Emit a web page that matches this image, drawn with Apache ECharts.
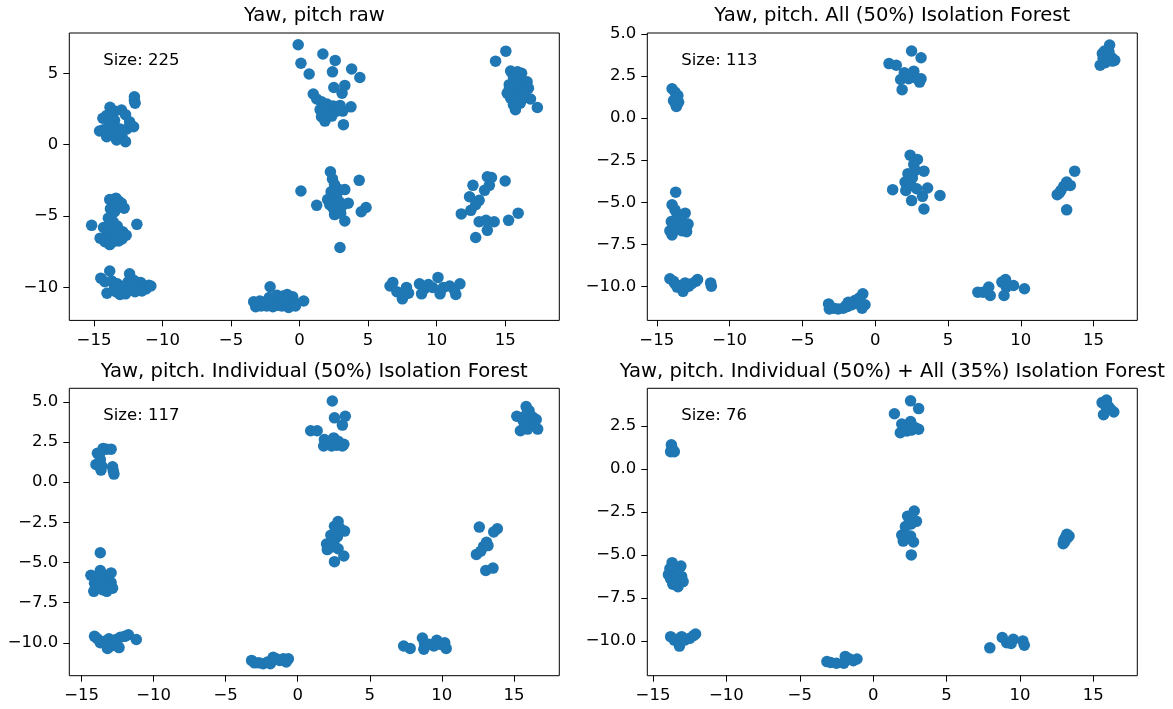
<!DOCTYPE html>
<html>
<head>
<meta charset="utf-8">
<title>Yaw, pitch</title>
<script src="https://cdn.jsdelivr.net/npm/echarts@6/dist/echarts.min.js"></script>
<style>
  html, body { margin: 0; padding: 0; background: #fff; }
  #chart { width: 1173px; height: 709px; }
</style>
</head>
<body>
<div id="chart"></div>
<script>
// [yaw, pitch] pairs for each panel
const rawPoints = [
  [-12.05,3.35],[-12.05,3.1],[-12.0,2.9],[-13.83,2.62],[-13.5,2.35],[-12.99,2.43],[-12.7,2.1],[-14.07,2.05],
  [-14.35,1.85],[-13.75,1.95],[-13.5,1.7],[-12.4,1.6],[-12.11,1.25],[-12.6,1.1],[-14.59,0.96],[-14.3,1.05],
  [-13.85,1.45],[-13.6,1.2],[-13.1,1.1],[-14.07,0.56],[-13.7,0.75],[-13.35,0.33],[-12.95,0.55],[-12.7,0.21],

  [-13.85,-3.85],[-13.4,-3.75],[-13.2,-3.95],[-13.6,-4.2],[-13.0,-4.1],[-13.8,-4.5],[-13.3,-4.4],[-12.8,-4.45],
  [-13.5,-4.7],[-13.95,-5.15],[-13.6,-5.4],[-15.17,-5.65],[-11.87,-5.58],[-14.3,-5.8],[-13.9,-5.9],[-13.3,-5.7],
  [-12.9,-6.1],[-14.0,-6.2],[-13.5,-6.1],[-12.65,-6.35],[-14.55,-6.55],[-13.8,-6.5],[-13.2,-6.4],[-14.2,-6.8],
  [-13.6,-6.8],[-13.2,-6.75],[-13.85,-7.0],[-12.95,-6.6],

  [-14.5,-9.35],[-14.2,-9.6],[-13.85,-8.85],[-13.7,-9.55],[-14.05,-10.4],[-13.5,-10.0],[-13.3,-9.75],[-13.0,-10.2],
  [-13.1,-10.5],[-12.8,-9.9],[-12.7,-10.45],[-12.4,-9.05],[-12.5,-9.6],[-12.3,-10.1],[-12.1,-9.5],[-12.0,-10.3],
  [-11.9,-9.8],[-11.7,-10.05],[-11.6,-9.65],[-11.4,-9.9],[-11.2,-10.1],[-11.0,-9.85],[-10.85,-9.9],[-12.9,-10.0],
  [-13.4,-10.3],[-12.2,-9.8],[-11.5,-10.25],[-12.6,-10.25],

  [-3.35,-11.0],[-3.2,-11.35],[-3.0,-11.15],[-2.8,-11.3],[-2.6,-11.2],[-2.4,-11.3],[-2.15,-9.95],[-2.2,-10.7],
  [-2.1,-11.1],[-1.95,-11.35],[-1.8,-11.0],[-1.6,-11.25],[-1.65,-10.55],[-1.4,-10.9],[-1.3,-11.3],[-1.1,-10.75],
  [-1.0,-11.1],[-0.9,-10.5],[-0.8,-11.4],[-0.75,-10.8],[-0.6,-11.2],[-0.5,-10.65],[-0.4,-11.0],[0.3,-10.95],
  [-2.9,-10.95],[-1.2,-10.6],[-0.3,-11.3],[-2.5,-11.0],

  [-0.1,7.0],[0.1,5.7],[0.7,4.95],[1.7,6.35],[2.6,5.9],[2.4,5.1],[3.8,5.3],[4.4,4.7],
  [2.5,4.0],[3.3,4.15],[3.1,3.6],[1.0,3.55],[1.25,3.2],[1.6,3.0],[1.95,2.6],[2.45,2.7],
  [2.7,2.35],[3.15,2.35],[3.75,2.65],[1.6,1.95],[1.85,1.65],[3.2,1.4],[2.2,2.2],[2.95,2.75],
  [1.5,2.45],[2.35,2.0],[2.0,2.85],

  [2.25,-1.9],[2.4,-2.4],[2.55,-2.8],[4.35,-2.5],[0.1,-3.25],[2.8,-3.1],[3.3,-3.15],[2.3,-3.3],
  [2.7,-3.6],[2.05,-3.85],[2.45,-3.95],[1.25,-4.25],[2.9,-4.0],[3.55,-4.1],[2.2,-4.2],[2.45,-4.45],
  [2.9,-4.5],[3.1,-4.3],[2.55,-4.9],[3.0,-4.8],[3.3,-5.35],[4.5,-4.7],[4.85,-4.4],[2.95,-7.2],
  [2.65,-4.65],

  [6.6,-9.9],[6.8,-9.65],[7.1,-10.3],[7.5,-10.8],[7.6,-10.5],[7.8,-10.0],[7.95,-10.4],[7.7,-10.25],
  [8.75,-9.75],[8.9,-10.45],[9.1,-10.1],[9.4,-9.8],[9.7,-10.0],[10.1,-9.3],[10.25,-10.45],[10.5,-10.0],
  [10.95,-9.9],[11.4,-10.5],[11.7,-9.75],[11.3,-10.2],

  [15.05,6.55],[14.3,5.85],[15.4,5.15],[15.9,5.1],[16.2,5.0],[15.6,4.75],[16.0,4.6],[16.6,4.4],
  [15.3,4.2],[15.8,4.3],[16.3,4.1],[15.5,3.9],[15.95,3.85],[16.4,3.7],[15.15,3.6],[15.6,3.5],
  [16.1,3.45],[15.4,3.25],[15.85,3.1],[16.5,3.3],[16.85,3.2],[17.35,2.6],[15.75,2.45],[15.6,2.8],
  [16.1,2.9],[15.3,3.9],[16.7,3.95],

  [13.7,-2.25],[14.0,-2.3],[13.85,-2.85],[15.0,-2.55],[12.65,-2.85],[13.5,-3.2],[12.4,-3.65],[13.1,-3.9],
  [12.85,-4.2],[12.5,-4.6],[11.8,-4.85],[13.1,-5.4],[13.6,-5.3],[14.2,-5.4],[13.7,-6.0],[12.85,-6.5],
  [15.25,-5.3],[15.95,-4.8]
];

const allForestPoints = [
  [-13.95,1.75],[-13.75,1.55],[-13.55,1.35],[-13.85,1.05],[-13.5,0.95],[-13.65,0.7],[-13.7,0.85],

  [-13.7,-4.4],[-13.95,-5.15],[-13.75,-5.45],[-13.6,-5.7],[-13.05,-5.65],[-14.0,-6.15],[-13.6,-6.05],[-13.35,-6.3],
  [-12.85,-6.3],[-14.1,-6.7],[-13.95,-6.95],[-13.65,-6.6],[-13.25,-6.7],[-12.95,-6.75],[-13.45,-5.95],[-13.8,-6.3],
  [-13.3,-6.1],

  [-14.1,-9.55],[-13.85,-9.7],[-13.75,-9.85],[-13.6,-10.05],[-13.35,-9.95],[-13.2,-10.3],[-13.05,-9.8],[-12.8,-10.0],
  [-12.6,-9.85],[-12.3,-9.7],[-12.2,-9.6],[-11.3,-9.8],[-11.25,-10.0],

  [-3.2,-11.05],[-3.15,-11.35],[-2.85,-11.3],[-2.55,-11.35],[-2.2,-11.3],[-1.9,-11.2],[-1.85,-10.95],[-1.6,-11.1],
  [-1.4,-10.85],[-1.2,-11.0],[-0.85,-10.45],[-0.7,-11.1],[-0.9,-11.3],[-2.0,-11.15],[-1.1,-10.7],

  [0.95,3.25],[1.45,3.15],[2.5,4.0],[3.15,3.6],[2.0,2.7],[2.65,2.8],[1.75,2.3],[2.3,2.35],
  [2.45,2.55],[3.15,2.35],[3.05,2.15],[1.85,1.7],[2.8,2.4],[2.2,2.6],

  [2.4,-2.2],[2.9,-2.45],[2.65,-2.75],[2.25,-3.3],[2.75,-3.1],[3.35,-3.15],[2.55,-3.55],[2.05,-3.8],
  [2.45,-4.0],[1.2,-4.25],[2.1,-4.3],[2.85,-4.2],[3.6,-4.15],[2.5,-4.9],[3.25,-4.65],[3.35,-5.4],
  [4.45,-4.6],

  [7.05,-10.35],[7.4,-10.35],[7.8,-10.05],[7.9,-10.55],[7.65,-10.3],[8.7,-9.75],[8.95,-9.6],[9.0,-10.05],
  [8.85,-10.55],[9.5,-9.95],[10.25,-10.15],

  [16.1,4.35],[15.6,3.85],[15.45,3.15],[15.8,3.3],[16.45,3.45],[15.95,3.7],[15.75,4.0],[16.25,3.6],
  [16.05,3.95],[16.3,3.4],[15.65,3.55],

  [12.5,-4.55],[12.75,-4.3],[12.95,-4.05],[13.15,-3.8],[13.4,-4.0],[13.7,-3.15],[13.15,-5.45],[12.65,-4.45]
];

const individualForestPoints = [
  [-13.9,1.8],[-13.5,2.1],[-13.25,2.05],[-12.95,2.05],[-14.0,1.1],[-13.7,1.4],[-13.75,1.75],[-13.6,1.0],
  [-13.65,0.75],[-12.85,0.95],[-12.8,0.7],[-12.75,0.5],

  [-13.7,-4.4],[-14.35,-5.8],[-14.05,-5.9],[-13.7,-5.5],[-13.45,-5.8],[-12.95,-5.65],[-14.1,-6.3],[-13.75,-6.1],
  [-13.4,-6.35],[-12.95,-6.25],[-14.15,-6.8],[-13.8,-6.6],[-13.55,-6.7],[-13.25,-6.8],[-12.85,-6.6],[-13.6,-6.4],

  [-14.1,-9.6],[-13.9,-9.75],[-13.7,-10.0],[-13.4,-9.9],[-13.2,-10.35],[-13.1,-9.75],[-12.85,-10.05],[-12.6,-9.8],
  [-12.4,-10.3],[-12.3,-9.65],[-12.0,-9.6],[-11.75,-9.5],[-11.2,-9.8],[-12.95,-10.2],

  [-3.2,-11.1],[-3.0,-11.25],[-2.7,-11.25],[-2.4,-11.3],[-2.1,-11.2],[-1.9,-11.3],[-1.7,-10.9],[-1.5,-11.0],
  [-1.25,-11.1],[-1.0,-11.0],[-0.8,-11.2],[-0.65,-11.0],

  [2.4,5.05],[0.9,3.2],[1.35,3.2],[2.55,4.0],[3.3,4.1],[3.1,3.55],[1.85,2.65],[2.1,2.5],
  [1.8,2.25],[2.5,2.75],[2.35,2.25],[2.8,2.55],[3.1,2.25],[2.7,2.3],[3.2,2.35],

  [2.8,-2.45],[2.55,-2.75],[2.9,-2.85],[3.25,-3.05],[2.3,-3.3],[2.75,-3.4],[2.0,-3.85],[2.5,-3.75],
  [2.3,-4.05],[2.05,-4.2],[2.8,-4.15],[3.2,-4.6],[2.55,-4.95],

  [7.35,-10.2],[7.8,-10.35],[8.65,-9.7],[8.8,-10.05],[8.75,-10.4],[9.1,-10.1],[9.45,-10.2],[9.65,-9.85],
  [10.2,-10.0],[10.3,-10.35],[9.9,-10.1],

  [15.85,4.7],[16.05,4.45],[15.2,4.1],[15.55,4.0],[15.9,4.25],[16.3,4.05],[16.55,3.9],[15.45,3.2],
  [15.75,3.5],[16.05,3.75],[16.35,3.55],[16.65,3.3],[15.95,3.3],[15.65,3.8],

  [12.6,-2.8],[13.85,-2.9],[13.6,-3.1],[12.4,-4.5],[12.7,-4.3],[12.9,-4.0],[13.1,-3.75],[13.2,-3.95],
  [13.05,-5.5],[13.55,-5.35]
];

const combinedForestPoints = [
  [-13.75,1.4],[-13.8,1.0],[-13.55,1.0],[-13.7,1.2],

  [-13.7,-5.45],[-13.1,-5.65],[-13.95,-6.15],[-13.8,-6.4],[-13.6,-6.0],[-13.35,-6.3],[-13.05,-6.25],[-13.65,-6.7],
  [-13.3,-6.85],[-12.95,-6.55],[-13.85,-5.8],[-13.45,-6.55],[-13.6,-5.7],

  [-13.8,-9.75],[-13.55,-9.95],[-13.35,-9.9],[-13.2,-10.3],[-13.05,-9.75],[-12.85,-9.95],[-12.5,-9.85],[-12.25,-9.7],
  [-12.1,-9.6],

  [-3.15,-11.2],[-2.9,-11.25],[-2.5,-11.3],[-2.0,-11.3],[-1.9,-10.9],[-1.6,-11.05],[-1.35,-11.15],[-1.1,-11.05],

  [1.45,3.2],[2.55,3.95],[3.1,3.5],[1.95,2.6],[1.85,2.1],[2.2,2.4],[2.55,2.75],[2.6,2.25],
  [3.1,2.3],[2.85,2.4],[2.3,2.2],

  [2.8,-2.45],[2.35,-2.75],[2.95,-3.05],[2.6,-3.2],[2.2,-3.35],[1.95,-3.85],[2.55,-3.9],[2.05,-4.2],
  [2.75,-4.25],[2.6,-5.0],

  [7.95,-10.4],[8.8,-9.8],[9.1,-10.1],[9.55,-9.9],[9.4,-10.15],[10.2,-10.0],[10.3,-10.25],

  [15.6,3.85],[15.9,4.0],[15.7,3.15],[16.05,3.6],[16.4,3.3],[16.2,3.45],[15.8,3.7],

  [12.95,-4.35],[13.0,-4.15],[13.1,-4.0],[13.2,-3.8],[13.35,-3.9],[13.05,-4.25],[13.25,-4.0]
];

const panelTitles = [
  'Yaw, pitch raw',
  'Yaw, pitch. All (50%) Isolation Forest',
  'Yaw, pitch. Individual (50%) Isolation Forest',
  'Yaw, pitch. Individual (50%) + All (35%) Isolation Forest'
];

const xTickValues = [-15, -10, -5, 0, 5, 10, 15];
const yTickValuesRaw = [-10, -5, 0, 5];
const yTickValuesForest = [-10, -7.5, -5, -2.5, 0, 2.5, 5];
const yTickValuesCombined = [-10, -7.5, -5, -2.5, 0, 2.5];

const xLimits = [[-16.8, 18.95], [-15.65, 18.0], [-15.85, 18.15], [-15.39, 18.0]];
const yLimits = [[-12.31, 7.82], [-12.03, 5.07], [-12.05, 5.84], [-12.02, 4.68]];

// ---- layout & styling ----
const FONT = 'DejaVu Sans';
const TICK_FS = 16.5;
const TITLE_FS = 19.6;
const BLUE = '#1f77b4';
const AX_W = 490, AX_H = 287.4;
const origins = [[69.3, 33], [647.3, 33], [69.3, 388.3], [647.3, 388.3]];

const panels = [
  { points: rawPoints,              yTicks: yTickValuesRaw,      digits: 0 },
  { points: allForestPoints,        yTicks: yTickValuesForest,   digits: 1 },
  { points: individualForestPoints, yTicks: yTickValuesForest,   digits: 1 },
  { points: combinedForestPoints,   yTicks: yTickValuesCombined, digits: 1 }
];

const withMinus = s => s.replace('-', '\u2212');

const option = {
  animation: false,
  backgroundColor: '#fff',
  grid: [], xAxis: [], yAxis: [], series: [], graphic: []
};

panels.forEach((p, i) => {
  const [left, top] = origins[i];
  option.grid.push({
    left: left, top: top, width: AX_W, height: AX_H,
    show: true, borderColor: '#000', borderWidth: 1, backgroundColor: 'transparent',
    containLabel: false, outerBoundsMode: 'none'
  });
  option.xAxis.push({
    type: 'value', gridIndex: i, min: xLimits[i][0], max: xLimits[i][1],
    splitLine: { show: false },
    axisLine: { show: false, onZero: false },
    axisTick: { show: true, length: 6, customValues: xTickValues, lineStyle: { color: '#000', width: 1 } },
    axisLabel: {
      customValues: xTickValues, margin: 11.5, color: '#000',
      fontFamily: FONT, fontSize: TICK_FS,
      formatter: v => withMinus(String(v))
    }
  });
  option.yAxis.push({
    type: 'value', gridIndex: i, min: yLimits[i][0], max: yLimits[i][1],
    splitLine: { show: false },
    axisLine: { show: false, onZero: false },
    axisTick: { show: true, length: 6, customValues: p.yTicks, lineStyle: { color: '#000', width: 1 } },
    axisLabel: {
      customValues: p.yTicks, margin: 11, color: '#000',
      fontFamily: FONT, fontSize: TICK_FS,
      formatter: v => withMinus(Number(v).toFixed(p.digits))
    }
  });
  option.series.push({
    type: 'scatter', xAxisIndex: i, yAxisIndex: i,
    data: p.points, symbol: 'circle', symbolSize: 11.5,
    itemStyle: { color: BLUE, opacity: 1 },
    emphasis: { disabled: true }, silent: true
  });
  // panel title, centred over the axes box
  option.graphic.push({
    type: 'text', x: left + AX_W / 2, y: top - 10 - 0.346 * TITLE_FS, silent: true,
    style: {
      text: panelTitles[i], font: TITLE_FS + 'px "' + FONT + '"', fill: '#000',
      align: 'center', verticalAlign: 'middle', textAlign: 'center', textVerticalAlign: 'middle'
    }
  });
  // point count in the upper-left corner
  option.graphic.push({
    type: 'text', x: left + 34, y: top + 33 - 0.346 * TICK_FS, silent: true,
    style: {
      text: 'Size: ' + p.points.length, font: TICK_FS + 'px "' + FONT + '"', fill: '#000',
      align: 'left', verticalAlign: 'middle', textAlign: 'left', textVerticalAlign: 'middle'
    }
  });
});

const chart = echarts.init(document.getElementById('chart'), null, { renderer: 'canvas' });
chart.setOption(option);
</script>
</body>
</html>
